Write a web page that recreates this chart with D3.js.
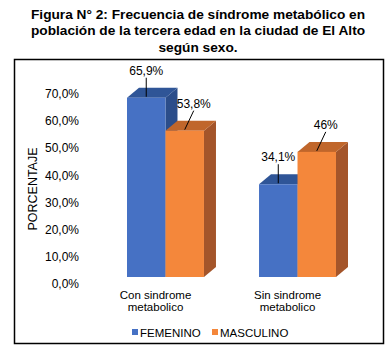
<!DOCTYPE html>
<html>
<head>
<meta charset="utf-8">
<script src="https://cdn.jsdelivr.net/npm/d3@7"></script>
<style>
  body { margin: 0; background: #fff; }
  svg { display: block; font-family: "Liberation Sans", Arial, sans-serif; }
</style>
</head>
<body>
<div id="chart"></div>
<script>
var titleLines = [
    "Figura N° 2: Frecuencia de síndrome metabólico en",
    "población de la tercera edad en la ciudad de El Alto",
    "según sexo."
];
var categories = ["Con sindrome metabolico", "Sin sindrome metabolico"];
var categoryLines = [["Con sindrome", "metabolico"], ["Sin sindrome", "metabolico"]];
var seriesNames = ["FEMENINO", "MASCULINO"];
var femenino = [65.9, 34.1];
var masculino = [53.8, 46];
var yTicks = [0, 10, 20, 30, 40, 50, 60, 70];

function drawChart() {
    var width = 390, height = 348;
    var svg = d3.select("#chart").append("svg")
        .attr("width", width)
        .attr("height", height);

    // title
    svg.append("g").selectAll("text")
        .data(titleLines)
        .enter().append("text")
        .attr("x", 198)
        .attr("y", function(d, i) { return 18.5 + i * 16.5; })
        .attr("text-anchor", "middle")
        .style("font-size", "13.7px")
        .style("font-weight", "bold")
        .style("fill", "#000")
        .text(function(d) { return d; });

    // chart border
    svg.append("rect")
        .attr("x", 14.5).attr("y", 59.5)
        .attr("width", 369).attr("height", 284)
        .attr("fill", "none")
        .attr("stroke", "#000")
        .attr("stroke-width", 1.5);

    var data = categories.map(function(c, i) {
        return { cat: c, values: [
            { name: seriesNames[0], value: femenino[i] },
            { name: seriesNames[1], value: masculino[i] }
        ]};
    });

    var x0 = d3.scaleBand().domain(categories).range([127, 336]).paddingInner(0.417).paddingOuter(0);
    var x1 = d3.scaleBand().domain(seriesNames).range([0, x0.bandwidth()]);
    var y = d3.scaleLinear().domain([0, 70]).range([277, 86.6]);

    var depthX = 12, depthY = -10;
    var colors = {
        FEMENINO: { front: "#4671c4", top: "#2f5597", side: "#2b4d8a" },
        MASCULINO: { front: "#f4873b", top: "#c0662b", side: "#a4552a" }
    };
    var labelDx = { FEMENINO: 0, MASCULINO: 9 };

    // y axis labels
    var yAxis = d3.axisLeft(y)
        .tickValues(yTicks)
        .tickSize(0)
        .tickPadding(0)
        .tickFormat(function(d) { return d3.format(".1f")(d).replace(".", ",") + "%"; });
    var gy = svg.append("g")
        .attr("transform", "translate(79,7)")
        .call(yAxis);
    gy.select(".domain").remove();
    gy.selectAll("text")
        .style("font-size", "12px")
        .style("font-family", "'Liberation Sans', Arial, sans-serif")
        .style("fill", "#000");

    svg.append("text")
        .attr("transform", "translate(37,189) rotate(-90)")
        .attr("text-anchor", "middle")
        .style("font-size", "12.5px")
        .style("fill", "#000")
        .text("PORCENTAJE");

    // bars
    var groups = svg.selectAll(".group")
        .data(data)
        .enter().append("g")
        .attr("class", "group")
        .attr("transform", function(d) { return "translate(" + x0(d.cat) + ",0)"; });

    var bars = groups.selectAll(".bar")
        .data(function(d) { return d.values; })
        .enter().append("g")
        .attr("class", "bar");

    bars.each(function(d) {
        var g = d3.select(this);
        var xl = x1(d.name), xr = xl + x1.bandwidth();
        var yt = y(d.value), yb = y(0);
        var c = colors[d.name];
        g.append("path")
            .attr("d", "M" + xr + "," + yt + "L" + (xr + depthX) + "," + (yt + depthY) +
                "L" + (xr + depthX) + "," + (yb + depthY) + "L" + xr + "," + yb + "Z")
            .attr("fill", c.side);
        g.append("path")
            .attr("d", "M" + xl + "," + yt + "L" + (xl + depthX) + "," + (yt + depthY) +
                "L" + (xr + depthX) + "," + (yt + depthY) + "L" + xr + "," + yt + "Z")
            .attr("fill", c.top);
        g.append("rect")
            .attr("x", xl).attr("y", yt)
            .attr("width", x1.bandwidth()).attr("height", yb - yt)
            .attr("fill", c.front);
    });

    // data labels with leader lines
    bars.each(function(d) {
        var g = d3.select(this);
        var cx = x1(d.name) + x1.bandwidth() / 2;
        var yt = y(d.value);
        var lx = cx + labelDx[d.name];
        var ly = yt - 23;
        g.append("line")
            .attr("x1", lx).attr("y1", ly + 3)
            .attr("x2", cx).attr("y2", yt - 1)
            .attr("stroke", "#000")
            .attr("stroke-width", 1);
        g.append("text")
            .attr("x", lx)
            .attr("y", ly)
            .attr("text-anchor", "middle")
            .style("font-size", "12px")
            .style("fill", "#000")
            .text(d3.format(".1~f")(d.value).replace(".", ",") + "%");
    });

    // category labels
    groups.each(function(d, i) {
        var g = d3.select(this);
        g.selectAll(".cat")
            .data(categoryLines[i])
            .enter().append("text")
            .attr("class", "cat")
            .attr("x", x0.bandwidth() / 2 - 10)
            .attr("y", function(t, j) { return 298.5 + j * 12.5; })
            .attr("text-anchor", "middle")
            .style("font-size", "11.5px")
            .style("fill", "#000")
            .text(function(t) { return t; });
    });

    // legend
    var legendX = [132, 212];
    var legend = svg.selectAll(".legend")
        .data(seriesNames)
        .enter().append("g")
        .attr("class", "legend")
        .attr("transform", function(d, i) { return "translate(" + legendX[i] + ",329)"; });
    legend.append("rect")
        .attr("width", 6).attr("height", 6)
        .attr("fill", function(d) { return colors[d].front; });
    legend.append("text")
        .attr("x", 8).attr("y", 7.5)
        .style("font-size", "11.5px")
        .style("fill", "#000")
        .text(function(d) { return d; });
}

drawChart();
</script>
</body>
</html>
